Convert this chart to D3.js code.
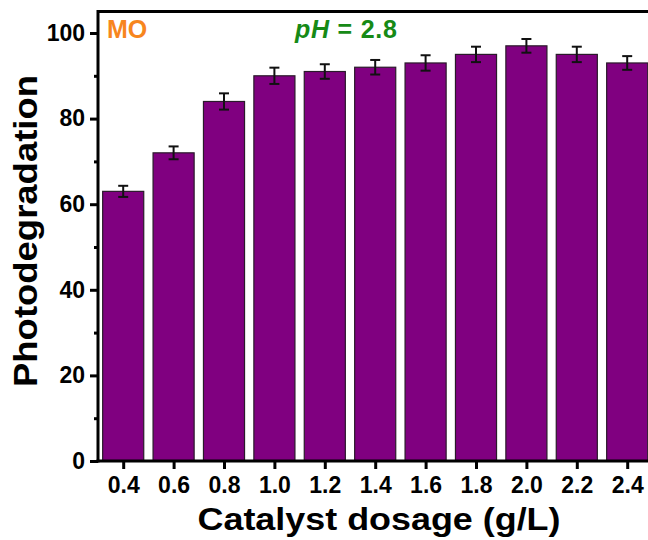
<!DOCTYPE html>
<html><head><meta charset="utf-8">
<script src="https://cdn.jsdelivr.net/npm/d3@7"></script>
<style>
html,body{margin:0;padding:0;background:#fff;overflow:hidden}
text{font-family:"Liberation Sans",Arial,sans-serif;font-weight:bold}
</style></head>
<body>
<svg id="c" width="648" height="540"></svg>
<script>
const categories = [0.4,0.6,0.8,1.0,1.2,1.4,1.6,1.8,2.0,2.2,2.4];
const values = [63,72,84,90,91,92,93,95,97,95,93];
const errors = [1.3,1.5,1.9,1.9,1.7,1.7,1.8,1.8,1.6,1.8,1.6];
const yTicks = [0,20,40,60,80,100];
const yMinor = [10,30,50,70,90];
const xTickLabels = ["0.4","0.6","0.8","1.0","1.2","1.4","1.6","1.8","2.0","2.2","2.4"];

const svg = d3.select("#c");
const x = d3.scaleLinear().domain([0.3,2.5]).range([98,652.4]);
const y = d3.scaleLinear().domain([0,105]).range([461,11.6]);
const barW = 0.163*252;

// bars
svg.append("g").selectAll("rect").data(values).join("rect")
  .attr("x",(d,i)=>x(categories[i])-barW/2)
  .attr("y",d=>y(d))
  .attr("width",barW)
  .attr("height",d=>y(0)-y(d))
  .attr("fill","#800080")
  .attr("stroke","#2a1a2a")
  .attr("stroke-width",1.2);

// error bars
const eg = svg.append("g").attr("stroke","#111").attr("stroke-width",2);
values.forEach((v,i)=>{
  const cx = x(categories[i]);
  eg.append("line").attr("x1",cx).attr("x2",cx).attr("y1",y(v+errors[i])).attr("y2",y(v-errors[i]));
  eg.append("line").attr("x1",cx-5).attr("x2",cx+5).attr("y1",y(v+errors[i])).attr("y2",y(v+errors[i]));
  eg.append("line").attr("x1",cx-5).attr("x2",cx+5).attr("y1",y(v-errors[i])).attr("y2",y(v-errors[i]));
});

// frame top
svg.append("line").attr("x1",x(0.3)).attr("x2",x(2.5)).attr("y1",y(105)).attr("y2",y(105))
  .attr("stroke","#000").attr("stroke-width",3);

// y axis
const yAxis = d3.axisLeft(y).tickValues(yTicks).tickSize(8).tickPadding(5).tickFormat(d3.format("d"));
const ya = svg.append("g").attr("transform",`translate(${x(0.3)},0)`).call(yAxis);
ya.select(".domain").attr("stroke-width",3).attr("d",`M0,${y(0)+1.5}V${y(105)-1.5}`);
ya.selectAll(".tick line").attr("stroke-width",3);
ya.selectAll(".tick text").attr("font-size",23).attr("font-family","Liberation Sans, Arial").attr("font-weight","bold").attr("fill","#000");
const yMin = d3.axisLeft(y).tickValues(yMinor).tickSize(4).tickFormat("");
const ym = svg.append("g").attr("transform",`translate(${x(0.3)},0)`).call(yMin);
ym.select(".domain").remove();
ym.selectAll(".tick line").attr("stroke-width",3);

// x axis
const xAxis = d3.axisBottom(x).tickValues(categories).tickSize(8).tickPadding(8).tickFormat((d,i)=>xTickLabels[i]);
const xa = svg.append("g").attr("transform",`translate(0,${y(0)})`).call(xAxis);
xa.select(".domain").attr("stroke-width",3).attr("d",`M${x(0.3)-1.5},0H${x(2.5)}`);
xa.selectAll(".tick line").attr("stroke-width",3);
xa.selectAll(".tick text").attr("font-size",23).attr("font-family","Liberation Sans, Arial").attr("font-weight","bold").attr("fill","#000");

// titles
svg.append("text").attr("x",379).attr("y",530).attr("text-anchor","middle")
  .attr("font-size",32).attr("textLength",363).attr("lengthAdjust","spacingAndGlyphs")
  .text("Catalyst dosage (g/L)");
svg.append("text").attr("transform","translate(37,231) rotate(-90)").attr("text-anchor","middle")
  .attr("font-size",33).attr("textLength",312).attr("lengthAdjust","spacingAndGlyphs")
  .text("Photodegradation");

// annotations
svg.append("text").attr("x",107).attr("y",38).attr("font-size",25).attr("fill","#f7861e").text("MO");
const ph = svg.append("text").attr("x",295).attr("y",38).attr("font-size",25).attr("fill","#168a16")
  .attr("textLength",102).attr("lengthAdjust","spacing");
ph.append("tspan").attr("font-style","italic").text("pH");
ph.append("tspan").text(" = 2.8");
</script>
</body></html>
